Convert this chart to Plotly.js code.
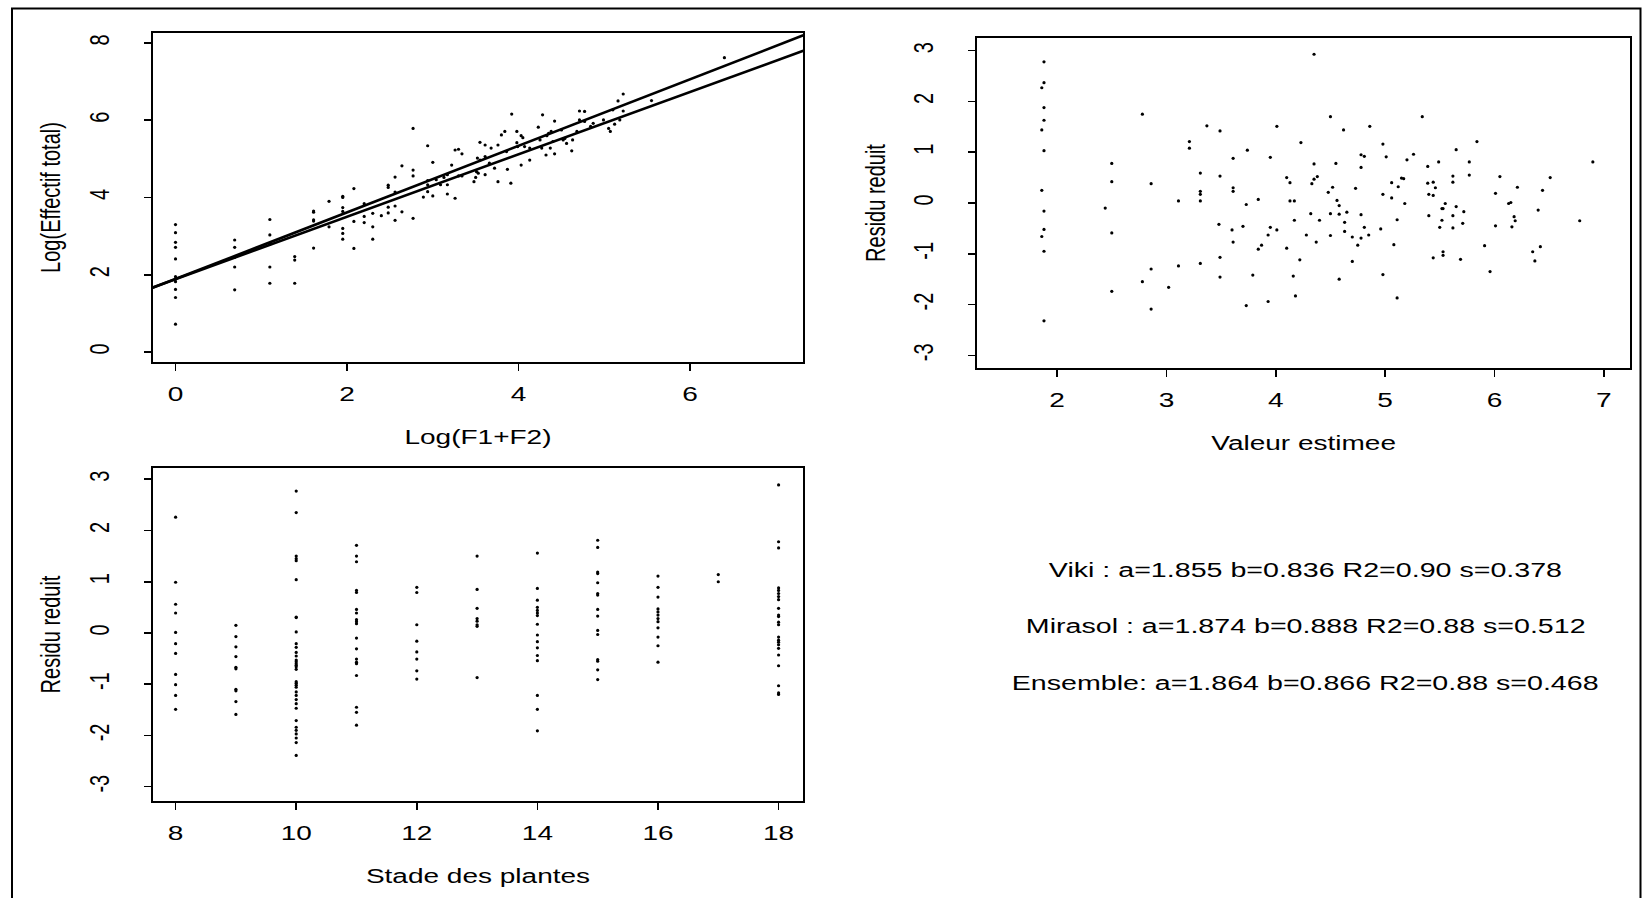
<!DOCTYPE html>
<html>
<head>
<meta charset="utf-8">
<script src="https://cdn.plot.ly/plotly-3.0.1.min.js"></script>
<style>
html,body{margin:0;padding:0;background:#fff;}
#plot{width:1648px;height:898px;}
</style>
</head>
<body>
<div id="plot"></div>
<script>
// ---------- Panel 1 : Log(Effectif total) vs Log(F1+F2) ----------
const logF = [
 0,0,0,0,0,0,0,0,0,0,0,
 0.69,0.69,0.69,0.69,0.69,
 1.10,1.10,1.10,1.10,1.10,
 1.39,1.39,1.39,
 1.61,1.61,1.61,1.61,1.61,
 1.79,1.79,
 1.95,1.95,1.95,1.95,1.95,1.95,1.95,
 2.08,2.08,2.08,
 2.20,2.20,2.20,
 2.30,2.30,2.30,
 2.40,
 2.48,2.48,2.48,2.48,
 2.56,2.56,2.56,2.56,
 2.64,2.64,
 2.77,2.77,2.77,2.77,
 2.89,
 2.94,2.94,2.94,2.94,
 3.00,3.00,
 3.04,3.09,3.13,
 3.17,3.17,3.17,
 3.22,
 3.26,3.26,
 3.30,3.30,
 3.34,3.34,
 3.48,3.50,3.51,3.52,3.53,3.55,3.55,3.61,3.61,3.61,3.66,3.68,3.72,3.76,3.76,3.80,3.84,3.86,3.87,3.91,
 3.92,3.98,3.98,3.99,4.03,4.05,4.03,4.07,4.13,4.13,4.23,4.25,4.27,4.28,4.32,4.33,4.35,4.37,4.38,4.40,
 4.42,4.42,4.50,4.52,4.54,4.56,4.62,4.63,4.68,4.71,4.71,4.77,4.77,4.84,4.87,4.99,5.05,5.07,5.10,5.12,
 5.16,5.18,5.22,5.22,5.55,6.40
];
const logEff = [
 3.30,3.09,2.84,2.71,2.41,1.95,1.88,1.82,1.62,1.41,0.72,
 2.90,2.71,2.45,2.20,1.61,
 3.43,3.03,2.79,2.20,1.78,
 2.47,2.38,1.78,
 3.65,3.62,3.42,3.39,2.69,
 3.90,3.24,
 4.03,4.00,3.74,3.64,3.20,3.07,2.92,
 4.23,3.38,2.68,
 3.84,3.51,3.35,
 3.59,3.24,2.92,
 3.53,
 4.32,4.26,3.75,3.60,
 4.53,4.14,3.78,3.41,
 4.82,3.63,
 5.79,4.71,4.56,3.46,
 4.01,
 5.34,4.44,4.33,4.15,
 4.91,4.04,
 4.46,4.33,4.52,
 4.59,4.33,4.09,
 4.84,
 5.23,3.98,
 5.25,4.56,
 5.13,4.56,
 4.41,4.52,4.67,5.02,4.63,5.43,4.97,5.36,5.06,4.59,4.89,5.28,4.76,5.36,4.41,5.62,5.71,5.19,4.73,4.37,
 6.16,5.71,5.42,5.32,5.60,5.55,4.84,5.32,5.28,4.97,5.82,5.49,5.28,6.14,5.10,5.60,5.66,5.28,5.71,5.45,
 5.98,5.13,5.75,5.49,5.53,5.40,5.21,5.49,5.71,6.24,6.01,6.23,5.97,5.84,5.92,6.01,5.79,5.71,6.27,5.90,
 6.50,6.01,6.68,6.24,6.51,7.62
];
// fitted lines (intercept, slope)
const lineIntercepts = [1.89, 1.885];
const lineSlopes     = [0.862, 0.808];

// ---------- Panel 2 : Residu reduit vs Valeur estimee ----------
const fitted = [
 1.88,1.88,1.86,1.88,1.88,1.86,1.88,1.86,1.88,1.88,1.86,1.88,1.88,
 2.50,2.50,2.44,2.50,2.50,
 2.78,2.86,2.86,2.78,2.86,3.02,3.11,3.11,3.21,3.21,3.31,3.31,3.31,3.31,3.31,3.37,3.49,3.49,3.48,3.49,3.49,
 3.61,3.61,3.61,3.60,3.61,3.74,3.73,3.70,3.79,3.73,3.84,3.84,3.87,3.93,3.95,3.93,3.95,4.01,4.01,
 4.10,4.13,4.13,4.17,4.10,4.17,4.16,4.18,4.22,4.23,4.28,4.35,4.33,4.35,4.38,4.32,4.37,4.35,4.40,
 4.50,4.48,4.52,4.50,4.50,4.55,4.56,4.58,4.58,4.58,4.62,4.63,4.65,4.63,4.70,4.70,4.73,4.75,4.78,
 4.78,4.78,4.81,4.78,4.81,4.86,4.85,4.96,4.98,4.98,4.98,5.01,5.06,5.06,5.08,5.11,5.12,5.15,5.17,5.11,5.18,5.20,
 5.26,5.34,5.39,5.39,5.40,5.44,5.44,5.46,5.40,5.49,5.50,5.44,5.52,5.55,5.52,5.53,5.53,5.53,
 5.62,5.62,5.65,5.71,5.72,5.62,5.62,5.65,5.69,5.77,5.77,5.84,5.91,5.96,6.01,6.01,6.05,
 6.13,6.15,6.16,6.18,6.19,6.21,6.35,6.37,6.42,6.40,6.44,6.51,6.78,6.90
];
const resid2 = [
 2.78,2.37,2.27,1.88,1.63,1.44,1.03,0.25,-0.16,-0.52,-0.66,-0.95,-2.32,
 0.78,0.42,-0.10,-0.59,-1.74,
 1.75,0.38,-1.30,-1.55,-2.09,-1.66,0.04,-1.24,1.21,1.08,0.59,0.23,0.17,0.04,-1.19,1.52,1.42,0.53,-0.42,-1.07,-1.46,
 0.88,0.30,0.23,-0.53,-0.77,1.04,-0.03,-0.46,-1.42,-2.02,0.07,-0.91,-0.83,-0.63,-0.48,-1.94,0.90,1.51,-0.53,
 0.50,0.40,0.04,0.04,-0.89,-0.34,-1.44,-1.83,-1.12,1.19,-0.63,2.93,0.38,0.47,0.52,-0.21,-0.77,0.77,-0.34,
 1.70,0.21,0.31,-0.21,-0.64,0.78,0.05,-0.05,-0.22,-1.50,1.44,-0.38,-0.18,-0.56,-0.67,-1.15,0.29,-0.83,-0.69,
 0.70,0.95,0.92,-0.23,-0.48,1.51,-0.63,-0.51,1.16,0.17,-1.41,0.91,0.40,0.10,-0.82,-1.87,0.32,0.49,0.48,-0.33,-0.01,0.85,
 0.96,1.70,0.72,0.39,0.17,0.15,0.41,0.30,-0.25,0.81,-0.48,-1.08,-0.34,-0.01,-0.11,-0.11,-0.96,-1.03,
 -0.49,-0.25,-0.07,-0.40,-0.17,0.53,0.41,1.05,-1.11,0.81,0.55,1.21,-0.84,-1.35,0.19,-0.45,0.52,
 -0.01,0.01,-0.47,-0.27,-0.35,0.31,-0.96,-1.14,-0.86,-0.14,0.25,0.50,-0.35,0.81
];

// ---------- Panel 3 : Residu reduit vs Stade des plantes ----------
const stage = [
 8,8,8,8,8,8,8,8,8,8,8,
 9,9,9,9,9,9,9,9,9,9,
 10,10,10,10,10,10,10,10,10,10,10,10,10,10,10,10,10,10,10,10,10,10,10,10,10,10,10,10,10,10,10,10,10,10,10,
 11,11,11,11,11,11,11,11,11,11,11,11,11,11,11,11,11,11,11,
 12,12,12,12,12,12,12,12,
 13,13,13,13,13,13,13,13,
 14,14,14,14,14,14,14,14,14,14,14,14,14,14,14,14,
 15,15,15,15,15,15,15,15,15,15,15,15,15,15,15,
 16,16,16,16,16,16,16,16,16,16,16,16,
 17,17,
 18,18,18,18,18,18,18,18,18,18,18,18,18,18,18,18,18,18,18,18,18,18,18
];
const resid3 = [
 2.26,0.99,0.56,0.39,0.01,-0.21,-0.40,-0.81,-1.01,-1.22,-1.49,
 0.15,-0.07,-0.27,-0.46,-0.67,-0.70,-1.10,-1.13,-1.34,-1.59,
 2.77,2.35,1.50,1.45,1.41,1.04,0.31,0.30,0.02,-0.21,-0.28,-0.38,-0.45,-0.53,-0.56,-0.60,-0.63,-0.66,-0.71,
 -0.95,-0.98,-1.02,-1.06,-1.15,-1.22,-1.30,-1.38,-1.47,-1.71,-1.84,-1.90,-1.97,-2.05,-2.14,-2.39,
 1.71,1.50,1.39,0.83,0.79,0.46,0.39,0.26,0.22,0.18,-0.10,-0.31,-0.51,-0.57,-0.60,-0.83,-1.45,-1.55,-1.80,
 0.89,0.79,0.16,-0.16,-0.37,-0.51,-0.74,-0.90,
 1.50,0.85,0.48,0.28,0.23,0.16,0.13,-0.87,
 1.56,0.87,0.64,0.50,0.44,0.39,0.34,0.17,-0.04,-0.17,-0.29,-0.44,-0.54,-1.22,-1.49,-1.91,
 1.81,1.67,1.19,1.16,0.98,0.77,0.74,0.46,0.33,0.05,-0.03,-0.52,-0.55,-0.72,-0.91,
 1.11,0.89,0.70,0.47,0.41,0.35,0.28,0.22,0.10,-0.08,-0.25,-0.57,
 1.14,1.00,
 2.89,1.78,1.66,0.88,0.83,0.77,0.71,0.65,0.48,0.35,0.32,0.21,0.16,-0.08,-0.14,-0.18,-0.23,-0.30,-0.43,-0.64,-1.03,-1.17,-1.20
];

// ---------- Tick labels / texts ----------
const ticks1x = [0,2,4,6];
const ticks1y = [0,2,4,6,8];
const ticks2x = [2,3,4,5,6,7];
const residTicks = [-3,-2,-1,0,1,2,3];
const residTickText = ['-3','-2','-1','0','1','2','3'];
const ticks3x = [8,10,12,14,16,18];
const notes = [
 'Viki : a=1.855 b=0.836 R2=0.90 s=0.378',
 'Mirasol : a=1.874 b=0.888 R2=0.88 s=0.512',
 'Ensemble: a=1.864 b=0.866 R2=0.88 s=0.468'
];

// ---------- Layout geometry ----------
const W = 1648, H = 898;
const FONT = 'Liberation Sans, Arial, Helvetica, sans-serif';
const range1x = [-0.266, 7.32], range1y = [-0.26, 8.26];
const range2x = [1.27, 7.24],  range2y = [-3.25, 3.25];
const range3x = [7.62, 18.41], range3y = [-3.28, 3.22];

const dot = {size:3.2, color:'#000'};
const traces = [
 {x:logF, y:logEff, xaxis:'x', yaxis:'y', type:'scatter', mode:'markers', marker:dot, hoverinfo:'skip'},
 {x:fitted, y:resid2, xaxis:'x2', yaxis:'y2', type:'scatter', mode:'markers', marker:dot, hoverinfo:'skip'},
 {x:stage, y:resid3, xaxis:'x3', yaxis:'y3', type:'scatter', mode:'markers', marker:dot, hoverinfo:'skip'}
];
lineIntercepts.forEach((a,i)=>{
  const b = lineSlopes[i];
  traces.push({x:range1x, y:range1x.map(v=>a+b*v), xaxis:'x', yaxis:'y', type:'scatter', mode:'lines',
    line:{color:'#000', width:2.6}, hoverinfo:'skip'});
});

function xa(anchor, domain, range, tickvals, ticktext, title){
  return {anchor, domain, range, tickmode:'array', tickvals, ticktext: ticktext || tickvals.map(String),
    showgrid:false, zeroline:false, showline:true, mirror:true, linecolor:'#000', linewidth:2,
    ticks:'outside', ticklen:7, tickwidth:1.6, tickcolor:'#000', ticklabelstandoff:6,
    tickfont:{family:FONT, size:20, color:'#000'},
    title:{text:title, font:{family:FONT, size:20, color:'#000'}, standoff:26}};
}
function ya(anchor, domain, range, tickvals, ticktext, title){
  return {anchor, domain, range, tickmode:'array', tickvals, ticktext: ticktext || tickvals.map(String),
    showgrid:false, zeroline:false, showline:true, mirror:true, linecolor:'#000', linewidth:2,
    ticks:'outside', ticklen:7, tickwidth:1.6, tickcolor:'#000', tickangle:-90, ticklabelstandoff:30,
    tickfont:{family:FONT, size:20, color:'#000'},
    title:{text:title, font:{family:FONT, size:20, color:'#000'}, standoff:24}};
}

const px = v => v / W, py = v => 1 - v / H;
const layout = {
  width:W, height:H, margin:{l:0, r:0, t:0, b:0}, paper_bgcolor:'#fff', plot_bgcolor:'#fff',
  showlegend:false, font:{family:FONT, size:20, color:'#000'},
  xaxis: xa('y', [px(152.7), px(803.3)], range1x, ticks1x, null, 'Log(F1+F2)'),
  yaxis: ya('x', [py(362), py(33)], range1y, ticks1y, null, 'Log(Effectif total)'),
  xaxis2: xa('y2', [px(977.3), px(1630)], range2x, ticks2x, null, 'Valeur estimee'),
  yaxis2: ya('x2', [py(368), py(38)], range2y, residTicks, residTickText, 'Residu reduit'),
  xaxis3: xa('y3', [px(152.7), px(803.3)], range3x, ticks3x, null, 'Stade des plantes'),
  yaxis3: ya('x3', [py(801), py(468)], range3y, residTicks, residTickText, 'Residu reduit'),
  annotations: notes.map((t,i)=>({text:t, xref:'paper', yref:'paper', x:px(1305), y:py([570,626,683][i]),
     xanchor:'center', yanchor:'middle', showarrow:false, font:{family:FONT, size:20, color:'#000'}})),
  shapes:[{type:'rect', xref:'paper', yref:'paper', x0:px(12), x1:px(1640.5), y0:-0.01, y1:py(8.5),
     line:{color:'#000', width:2}, fillcolor:'rgba(0,0,0,0)'}]
};

const gd = document.getElementById('plot');
Plotly.newPlot(gd, traces, layout, {staticPlot:true, displayModeBar:false}).then(()=>{
  // the printed figure uses horizontally widened lettering
  const STRETCH = 1.4, NOTE_STRETCH = 1.43;
  gd.querySelectorAll('.xtick text, .x2tick text, .x3tick text, .xtitle, .x2title, .x3title').forEach(t=>{
    const L = t.getComputedTextLength();
    if (L > 0) { t.setAttribute('textLength', (L*STRETCH).toFixed(1)); t.setAttribute('lengthAdjust','spacingAndGlyphs'); }
  });
  gd.querySelectorAll('.annotation-text').forEach(t=>{
    const L = t.getComputedTextLength();
    if (L > 0) { t.setAttribute('textLength', (L*NOTE_STRETCH).toFixed(1)); t.setAttribute('lengthAdjust','spacingAndGlyphs'); }
  });
  // rotated texts: widen across the reading direction (page-horizontal)
  gd.querySelectorAll('.ytick text, .y2tick text, .y3tick text, .ytitle, .y2title, .y3title').forEach(t=>{
    const bb = t.getBBox();
    if (!bb.width) return;
    const cx = bb.x + bb.width/2, cy = bb.y + bb.height/2;
    const tr = t.getAttribute('transform') || '';
    t.setAttribute('transform', tr + ' translate(' + cx + ',' + cy + ') scale(1,' + STRETCH + ') translate(' + (-cx) + ',' + (-cy) + ')');
  });
});
</script>
</body>
</html>
